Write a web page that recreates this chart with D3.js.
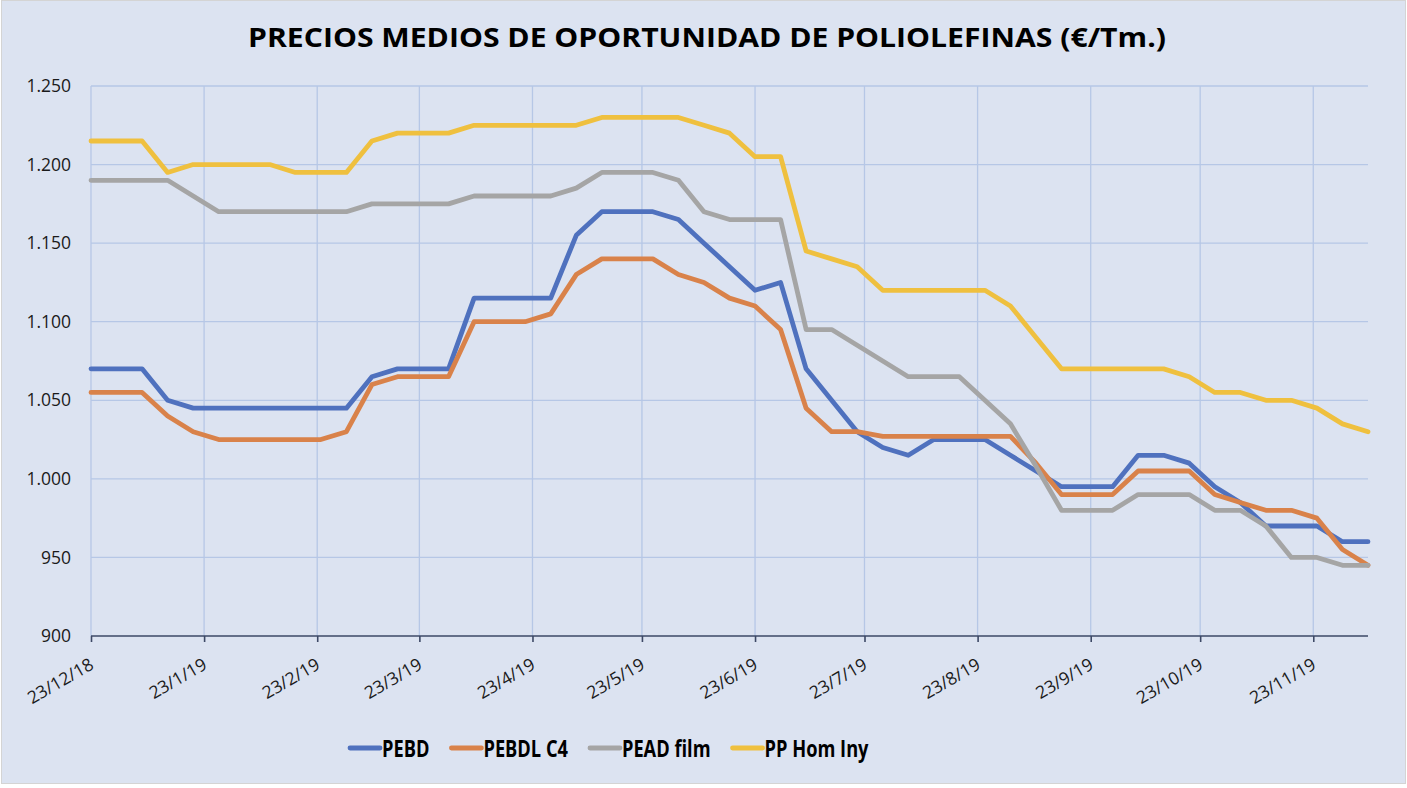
<!DOCTYPE html>
<html>
<head>
<meta charset="utf-8">
<script src="https://cdn.jsdelivr.net/npm/d3@7"></script>
<style>
body { margin: 0; background: #fff; }
text { font-family: "Open Sans", "Noto Sans", sans-serif; }
</style>
</head>
<body>
<script>
// weekly quotes
var dates = [
  "2018-12-23","2018-12-30","2019-01-06","2019-01-13","2019-01-20","2019-01-27",
  "2019-02-03","2019-02-10","2019-02-17","2019-02-24","2019-03-03","2019-03-10",
  "2019-03-17","2019-03-24","2019-03-31","2019-04-07","2019-04-14","2019-04-21",
  "2019-04-28","2019-05-05","2019-05-12","2019-05-19","2019-05-26","2019-06-02",
  "2019-06-09","2019-06-16","2019-06-23","2019-06-30","2019-07-07","2019-07-14",
  "2019-07-21","2019-07-28","2019-08-04","2019-08-11","2019-08-18","2019-08-25",
  "2019-09-01","2019-09-08","2019-09-15","2019-09-22","2019-09-29","2019-10-06",
  "2019-10-13","2019-10-20","2019-10-27","2019-11-03","2019-11-10","2019-11-17",
  "2019-11-24","2019-12-01","2019-12-08"
];

var pebd = [1070,1070,1070,1050,1045,1045,1045,1045,1045,1045,1045,1065,1070,1070,1070,
  1115,1115,1115,1115,1155,1170,1170,1170,1165,1150,1135,1120,1125,1070,1050,1030,1020,
  1015,1025,1025,1025,1015,1005,995,995,995,1015,1015,1010,995,985,970,970,970,960,960];

var pebdlC4 = [1055,1055,1055,1040,1030,1025,1025,1025,1025,1025,1030,1060,1065,1065,1065,
  1100,1100,1100,1105,1130,1140,1140,1140,1130,1125,1115,1110,1095,1045,1030,1030,1027,
  1027,1027,1027,1027,1027,1010,990,990,990,1005,1005,1005,990,985,980,980,975,955,945];

var peadFilm = [1190,1190,1190,1190,1180,1170,1170,1170,1170,1170,1170,1175,1175,1175,1175,
  1180,1180,1180,1180,1185,1195,1195,1195,1190,1170,1165,1165,1165,1095,1095,1085,1075,
  1065,1065,1065,1050,1035,1008,980,980,980,990,990,990,980,980,970,950,950,945,945];

var ppHomIny = [1215,1215,1215,1195,1200,1200,1200,1200,1195,1195,1195,1215,1220,1220,1220,
  1225,1225,1225,1225,1225,1230,1230,1230,1230,1225,1220,1205,1205,1145,1140,1135,1120,
  1120,1120,1120,1120,1110,1090,1070,1070,1070,1070,1070,1065,1055,1055,1050,1050,1045,1035,1030];

var seriesNames = ["PEBD", "PEBDL C4", "PEAD film", "PP Hom Iny"];
var seriesValues = [pebd, pebdlC4, peadFilm, ppHomIny];

var tickDates = ["2018-12-23","2019-01-23","2019-02-23","2019-03-23","2019-04-23","2019-05-23",
  "2019-06-23","2019-07-23","2019-08-23","2019-09-23","2019-10-23","2019-11-23"];
var tickLabels = ["23/12/18","23/1/19","23/2/19","23/3/19","23/4/19","23/5/19",
  "23/6/19","23/7/19","23/8/19","23/9/19","23/10/19","23/11/19"];

var yTicks = [900, 950, 1000, 1050, 1100, 1150, 1200, 1250];
var yLabels = ["900", "950", "1.000", "1.050", "1.100", "1.150", "1.200", "1.250"];

var title = "PRECIOS MEDIOS DE OPORTUNIDAD DE POLIOLEFINAS (€/Tm.)";

// look
var colors = ["#4f71be", "#d9824a", "#a5a5a5", "#efc03f"];
var bg = "#dce3f1";
var gridColor = "#b6c7e6";
var axisColor = "#3d4966";

var width = 1407, height = 788;
var plotLeft = 91, plotRight = 1368, plotTop = 86, plotBottom = 636;

var parse = d3.timeParse("%Y-%m-%d");
var dateObjs = dates.map(parse);
var tickObjs = tickDates.map(parse);

var x = d3.scaleTime()
    .domain(d3.extent(dateObjs))
    .range([plotLeft, plotRight]);

var y = d3.scaleLinear()
    .domain([900, 1250])
    .range([plotBottom, plotTop]);

var svg = d3.select("body").append("svg")
    .attr("width", width)
    .attr("height", height);

svg.append("rect")
    .attr("x", 1.5).attr("y", 0.5)
    .attr("width", width - 3).attr("height", 783)
    .attr("fill", bg)
    .attr("stroke", "#d4d4d4");

// title
svg.append("text")
    .attr("x", 707).attr("y", 47)
    .attr("text-anchor", "middle")
    .attr("font-size", 27)
    .attr("font-weight", "bold")
    .attr("fill", "#000")
    .attr("textLength", 918)
    .attr("lengthAdjust", "spacingAndGlyphs")
    .text(title);

// horizontal grid
svg.append("g")
  .selectAll("line")
  .data(yTicks.slice(1))
  .join("line")
    .attr("x1", plotLeft).attr("x2", plotRight)
    .attr("y1", d => y(d)).attr("y2", d => y(d))
    .attr("stroke", gridColor)
    .attr("stroke-width", 1.3);

// vertical grid
svg.append("g")
  .selectAll("line")
  .data(tickObjs)
  .join("line")
    .attr("x1", d => x(d)).attr("x2", d => x(d))
    .attr("y1", plotTop).attr("y2", plotBottom)
    .attr("stroke", gridColor)
    .attr("stroke-width", 1.3);

// y labels
svg.append("g")
  .selectAll("text")
  .data(yTicks)
  .join("text")
    .attr("x", 71)
    .attr("y", d => y(d))
    .attr("dy", "0.35em")
    .attr("text-anchor", "end")
    .attr("font-size", 17.5)
    .attr("fill", "#1a1a1a")
    .text((d, i) => yLabels[i]);

// x axis
var xAxis = svg.append("g")
    .attr("transform", "translate(0," + plotBottom + ")")
    .call(d3.axisBottom(x).tickValues(tickObjs).tickSize(6).tickFormat(""));
xAxis.select(".domain").attr("stroke", axisColor).attr("stroke-width", 1.6)
    .attr("d", "M" + plotLeft + ",0H" + plotRight);
xAxis.selectAll(".tick line").attr("stroke", axisColor).attr("stroke-width", 1.6);

svg.append("g")
  .selectAll("text")
  .data(tickObjs)
  .join("text")
    .attr("transform", d => "translate(" + (x(d) + 4) + ",668) rotate(-30)")
    .attr("text-anchor", "end")
    .attr("font-size", 17.5)
    .attr("fill", "#1a1a1a")
    .text((d, i) => tickLabels[i]);

// series
var line = d3.line()
    .x((d, i) => x(dateObjs[i]))
    .y(d => y(d));

svg.append("g")
  .selectAll("path")
  .data(seriesValues)
  .join("path")
    .attr("d", line)
    .attr("fill", "none")
    .attr("stroke", (d, i) => colors[i])
    .attr("stroke-width", 4.8)
    .attr("stroke-linejoin", "round")
    .attr("stroke-linecap", "round");

// legend
var legend = svg.append("g");
var lx = 350, ly = 748;
seriesNames.forEach(function(name, i) {
  legend.append("line")
      .attr("x1", lx).attr("x2", lx + 30)
      .attr("y1", ly).attr("y2", ly)
      .attr("stroke", colors[i])
      .attr("stroke-width", 4.8)
      .attr("stroke-linecap", "round");
  var tx = legend.append("text")
      .attr("x", lx + 32)
      .attr("y", ly + 9)
      .attr("font-size", 24)
      .attr("font-weight", "bold")
      .attr("fill", "#000")
      .text(name);
  var w = tx.node().getComputedTextLength() * 0.76;
  tx.attr("textLength", w).attr("lengthAdjust", "spacingAndGlyphs");
  lx += 32 + w + 22;
});
</script>
</body>
</html>
